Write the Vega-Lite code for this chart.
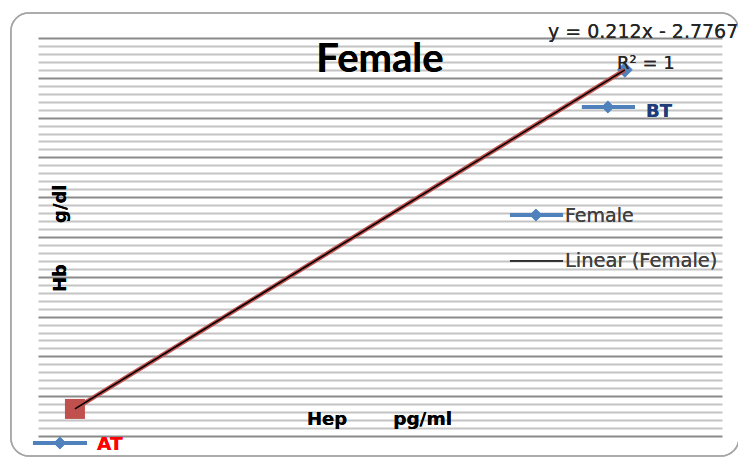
{
  "$schema": "https://vega.github.io/schema/vega-lite/v6.json",
  "width": 684,
  "height": 398,
  "autosize": "none",
  "padding": {"left": 38, "top": 38, "right": 16, "bottom": 21},
  "background": "white",
  "config": {"view": {"stroke": null}, "font": "DejaVu Sans"},
  "data": {"values": [
    {"series": "Female", "label": "AT", "hep": 57.15, "hb": 9.34},
    {"series": "Female", "label": "BT", "hep": 77.25, "hb": 13.60}
  ]},
  "resolve": {"axis": {"y": "independent"}},
  "layer": [
    {
      "mark": {"type": "rect", "fill": "transparent", "stroke": "#a6a6a6", "strokeWidth": 1.5, "cornerRadius": 18},
      "encoding": {
        "x": {"datum": 54.81, "type": "quantitative", "scale": {"domain": [55.8, 80.8], "nice": false, "zero": false}, "axis": null},
        "x2": {"datum": 81.42},
        "y": {"datum": 14.314, "type": "quantitative", "scale": {"domain": [9, 14], "nice": false, "zero": false},
              "axis": {"orient": "left", "values": [9.1,9.2,9.3,9.4,9.6,9.7,9.8,9.9,10.1,10.2,10.3,10.4,10.6,10.7,10.8,10.9,11.1,11.2,11.3,11.4,11.6,11.7,11.8,11.9,12.1,12.2,12.3,12.4,12.6,12.7,12.8,12.9,13.1,13.2,13.3,13.4,13.6,13.7,13.8,13.9],
                       "grid": true, "gridColor": "#c4c4c4", "gridWidth": 2, "gridOpacity": 1, "labels": false, "ticks": false, "domain": false, "title": null}},
        "y2": {"datum": 8.749}
      }
    },
    {
      "mark": {"type": "point", "filled": true, "opacity": 1, "strokeWidth": 0},
      "encoding": {
        "x": {"field": "hep", "type": "quantitative", "axis": null},
        "y": {"field": "hb", "type": "quantitative",
              "axis": {"orient": "right", "values": [9,9.5,10,10.5,11,11.5,12,12.5,13,13.5,14],
                       "grid": true, "gridColor": "#8a8a8a", "gridWidth": 2, "gridOpacity": 1, "labels": false, "ticks": false, "domain": false, "title": null}},
        "color": {"field": "label", "type": "nominal", "scale": {"domain": ["AT", "BT"], "range": ["#C0504D", "#4F81BD"]}, "legend": null},
        "shape": {"field": "label", "type": "nominal", "scale": {"domain": ["AT", "BT"], "range": ["square", "diamond"]}, "legend": null},
        "size": {"field": "label", "type": "nominal", "scale": {"domain": ["AT", "BT"], "range": [400, 250]}, "legend": null}
      }
    },
    {
      "mark": {"type": "line", "color": "#C0504D", "strokeWidth": 4.5},
      "encoding": {
        "x": {"field": "hep", "type": "quantitative", "axis": null},
        "y": {"field": "hb", "type": "quantitative", "axis": null}
      }
    },
    {
      "transform": [{"regression": "hb", "on": "hep"}],
      "mark": {"type": "line", "color": "#000000", "strokeWidth": 1.6},
      "encoding": {
        "x": {"field": "hep", "type": "quantitative", "axis": null},
        "y": {"field": "hb", "type": "quantitative", "axis": null}
      }
    },
    {
      "mark": {"type": "text", "text": "Female", "font": "Lato", "fontWeight": "bold", "fontSize": 40, "align": "center", "baseline": "alphabetic", "color": "#000000"},
      "encoding": {"x": {"datum": 68.3, "type": "quantitative", "axis": null}, "y": {"datum": 13.573, "type": "quantitative", "axis": null}}
    },
    {
      "mark": {"type": "text", "text": "y = 0.212x - 2.7767", "font": "DejaVu Sans", "fontSize": 19, "align": "left", "baseline": "alphabetic", "color": "#262626"},
      "encoding": {"x": {"datum": 74.44, "type": "quantitative", "axis": null}, "y": {"datum": 14.0, "type": "quantitative", "axis": null}}
    },
    {
      "mark": {"type": "text", "text": "R² = 1", "font": "DejaVu Sans", "fontSize": 18, "align": "left", "baseline": "alphabetic", "color": "#262626"},
      "encoding": {"x": {"datum": 76.96, "type": "quantitative", "axis": null}, "y": {"datum": 13.61, "type": "quantitative", "axis": null}}
    },
    {
      "mark": {"type": "rule", "color": "#4F81BD", "strokeWidth": 4},
      "encoding": {"x": {"datum": 75.68, "type": "quantitative", "axis": null}, "x2": {"datum": 77.62}, "y": {"datum": 13.133, "type": "quantitative", "axis": null}}
    },
    {
      "mark": {"type": "point", "shape": "diamond", "filled": true, "color": "#4F81BD", "size": 160, "opacity": 1},
      "encoding": {"x": {"datum": 76.63, "type": "quantitative", "axis": null}, "y": {"datum": 13.133, "type": "quantitative", "axis": null}}
    },
    {
      "mark": {"type": "text", "text": "BT", "font": "DejaVu Sans", "fontWeight": "bold", "fontSize": 18, "align": "left", "baseline": "alphabetic", "color": "#1F3C7A"},
      "encoding": {"x": {"datum": 78.02, "type": "quantitative", "axis": null}, "y": {"datum": 13.008, "type": "quantitative", "axis": null}}
    },
    {
      "mark": {"type": "rule", "color": "#4F81BD", "strokeWidth": 4},
      "encoding": {"x": {"datum": 55.617, "type": "quantitative", "axis": null}, "x2": {"datum": 57.59}, "y": {"datum": 8.912, "type": "quantitative", "axis": null}}
    },
    {
      "mark": {"type": "point", "shape": "diamond", "filled": true, "color": "#4F81BD", "size": 160, "opacity": 1},
      "encoding": {"x": {"datum": 56.60, "type": "quantitative", "axis": null}, "y": {"datum": 8.912, "type": "quantitative", "axis": null}}
    },
    {
      "mark": {"type": "text", "text": "AT", "font": "DejaVu Sans", "fontWeight": "bold", "fontSize": 18.5, "align": "left", "baseline": "alphabetic", "color": "#FF0000"},
      "encoding": {"x": {"datum": 57.96, "type": "quantitative", "axis": null}, "y": {"datum": 8.824, "type": "quantitative", "axis": null}}
    },
    {
      "mark": {"type": "rule", "color": "#4F81BD", "strokeWidth": 4},
      "encoding": {"x": {"datum": 73.05, "type": "quantitative", "axis": null}, "x2": {"datum": 74.99}, "y": {"datum": 11.776, "type": "quantitative", "axis": null}}
    },
    {
      "mark": {"type": "point", "shape": "diamond", "filled": true, "color": "#4F81BD", "size": 160, "opacity": 1},
      "encoding": {"x": {"datum": 74.0, "type": "quantitative", "axis": null}, "y": {"datum": 11.776, "type": "quantitative", "axis": null}}
    },
    {
      "mark": {"type": "text", "text": "Female", "font": "DejaVu Sans", "fontSize": 19, "align": "left", "baseline": "alphabetic", "color": "#404040"},
      "encoding": {"x": {"datum": 75.06, "type": "quantitative", "axis": null}, "y": {"datum": 11.688, "type": "quantitative", "axis": null}}
    },
    {
      "mark": {"type": "rule", "color": "#000000", "strokeWidth": 1},
      "encoding": {"x": {"datum": 73.05, "type": "quantitative", "axis": null}, "x2": {"datum": 74.99}, "y": {"datum": 11.199, "type": "quantitative", "axis": null}}
    },
    {
      "mark": {"type": "text", "text": "Linear (Female)", "font": "DejaVu Sans", "fontSize": 19.5, "align": "left", "baseline": "alphabetic", "color": "#404040"},
      "encoding": {"x": {"datum": 75.06, "type": "quantitative", "axis": null}, "y": {"datum": 11.123, "type": "quantitative", "axis": null}}
    },
    {
      "mark": {"type": "text", "text": "Hep", "font": "DejaVu Sans", "fontWeight": "bold", "fontSize": 18, "align": "left", "baseline": "alphabetic", "color": "#000000"},
      "encoding": {"x": {"datum": 65.63, "type": "quantitative", "axis": null}, "y": {"datum": 9.138, "type": "quantitative", "axis": null}}
    },
    {
      "mark": {"type": "text", "text": "pg/ml", "font": "DejaVu Sans", "fontWeight": "bold", "fontSize": 18.5, "align": "left", "baseline": "alphabetic", "color": "#000000"},
      "encoding": {"x": {"datum": 68.78, "type": "quantitative", "axis": null}, "y": {"datum": 9.138, "type": "quantitative", "axis": null}}
    },
    {
      "mark": {"type": "text", "text": "Hb", "font": "DejaVu Sans", "fontWeight": "bold", "fontSize": 18, "angle": 270, "align": "left", "baseline": "alphabetic", "color": "#000000"},
      "encoding": {"x": {"datum": 56.82, "type": "quantitative", "axis": null}, "y": {"datum": 10.809, "type": "quantitative", "axis": null}}
    },
    {
      "mark": {"type": "text", "text": "g/dl", "font": "DejaVu Sans", "fontWeight": "bold", "fontSize": 18, "angle": 270, "align": "left", "baseline": "alphabetic", "color": "#000000"},
      "encoding": {"x": {"datum": 56.82, "type": "quantitative", "axis": null}, "y": {"datum": 11.676, "type": "quantitative", "axis": null}}
    }
  ]
}
